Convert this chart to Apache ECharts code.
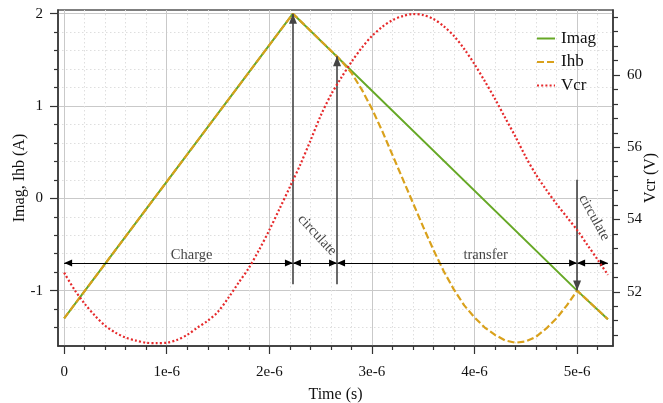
<!DOCTYPE html>
<html>
<head>
<meta charset="utf-8">
<script src="https://cdn.jsdelivr.net/npm/echarts@6/dist/echarts.min.js"></script>
<style>
  html, body { margin: 0; padding: 0; background: #fff; }
  #chart { width: 663px; height: 403px; }
</style>
</head>
<body>
<div id="chart"></div>
<script>
const FONT = '"Liberation Serif", "DejaVu Serif", serif';

// Axis ticks and their labels
const timeTicks = [0, 1e-6, 2e-6, 3e-6, 4e-6, 5e-6];
const timeTickLabels = ['0', '1e-6', '2e-6', '3e-6', '4e-6', '5e-6'];
const currentTicks = [-1, 0, 1, 2];
const currentTickLabels = ['-1', '0', '1', '2'];
const voltageTicks = [52, 54, 56, 58];
const voltageTickLabels = ['52', '54', '56', '60'];

// Waveforms: [time (us), value]
const imagPoints = [[0, -1.30], [2.23, 2.00], [5.0, -1.00], [5.3, -1.31]];
const ihbPoints = [
  [0, -1.30], [2.23, 2.00], [2.66, 1.535], [2.7, 1.49], [2.8, 1.36], [2.9, 1.18],
  [3.0, 0.97], [3.1, 0.73], [3.2, 0.47], [3.3, 0.21], [3.4, -0.05], [3.5, -0.31],
  [3.6, -0.56], [3.7, -0.79], [3.8, -0.99], [3.9, -1.16], [4.0, -1.29], [4.1, -1.40],
  [4.2, -1.48], [4.3, -1.54], [4.4, -1.565], [4.5, -1.55], [4.6, -1.50], [4.7, -1.41],
  [4.8, -1.30], [4.9, -1.16], [5.0, -1.00], [5.3, -1.31]
];
const vcrPoints = [
  [0, 52.53], [0.1, 52.06], [0.2, 51.67], [0.3, 51.34], [0.4, 51.06], [0.5, 50.87],
  [0.6, 50.73], [0.7, 50.65], [0.8, 50.59], [0.9, 50.58], [1.0, 50.59], [1.1, 50.67],
  [1.2, 50.81], [1.3, 51.01], [1.4, 51.20], [1.5, 51.45], [1.6, 51.83], [1.7, 52.25],
  [1.8, 52.66], [1.9, 53.16], [2.0, 53.71], [2.1, 54.30], [2.2, 54.90], [2.3, 55.51],
  [2.4, 56.18], [2.5, 56.87], [2.6, 57.45], [2.7, 57.92], [2.8, 58.36], [2.9, 58.75],
  [3.0, 59.08], [3.1, 59.33], [3.2, 59.52], [3.3, 59.63], [3.4, 59.69], [3.5, 59.66],
  [3.6, 59.55], [3.7, 59.35], [3.8, 59.08], [3.9, 58.72], [4.0, 58.30], [4.1, 57.83],
  [4.2, 57.34], [4.3, 56.81], [4.4, 56.29], [4.5, 55.73], [4.6, 55.24], [4.7, 54.82],
  [4.8, 54.43], [4.9, 54.07], [5.0, 53.71], [5.1, 53.30], [5.2, 52.89], [5.3, 52.47]
];

// Operating phases (us) shown as double arrows at a fixed current level
const phaseArrowLevel = -0.7;
const phaseSpans = [[0, 2.23], [2.23, 2.66], [2.66, 5.0], [5.0, 5.3]];
// Switching-instant markers: [time (us), from current, to current]
const switchMarkers = [[2.23, -0.93, 2.0], [2.66, -0.93, 1.54], [5.0, 0.2, -1.0]];
// Phase captions: [text, time (us), current, rotation (deg)]
const phaseCaptions = [
  ['Charge', 1.243, -0.62, 0],
  ['circulate', 2.466, -0.40, -47],
  ['transfer', 4.108, -0.62, 0],
  ['circulate', 5.166, -0.21, -61]
];

const us = p => [p[0] * 1e-6, p[1]];

function steps(from, to, step, skipEvery) {
  const out = [];
  for (let k = 0; from + k * step <= to + step * 1e-6; k++) {
    if (skipEvery && k % skipEvery === 0) continue;
    out.push(+(from + k * step).toPrecision(10));
  }
  return out;
}
const timeMinorTicks = steps(0, 5.2e-6, 0.2e-6, 5);
const currentMinorTicks = steps(-1.4, 2.0, 0.2, 0).filter(v => Math.abs(v - Math.round(v)) > 1e-9);
const voltageMinorTicks = steps(50.8, 59.6, 0.4, 0).filter(v => Math.abs((v - 52) / 2 - Math.round((v - 52) / 2)) > 1e-9);

function lookup(ticks, labels) {
  return v => {
    for (let i = 0; i < ticks.length; i++) {
      if (Math.abs(ticks[i] - v) <= Math.abs(ticks[1] - ticks[0]) * 1e-6) return labels[i];
    }
    return '';
  };
}

const X_RANGE = { min: -0.06e-6, max: 5.35e-6 };
const I_RANGE = { min: -1.6, max: 2.04 };
const V_RANGE = { min: 50.5, max: 59.8 };

const AXIS_COLOR = '#333';
const labelStyle = { color: '#111', fontFamily: FONT, fontSize: 15 };
const nameStyle = { color: '#111', fontFamily: FONT, fontSize: 16 };
const majorGrid = { show: true, lineStyle: { color: '#c9c9c9', width: 1 } };
const minorGrid = { show: true, lineStyle: { color: '#dedede', width: 1, type: [1.5, 2.5] } };
// Arrowhead tips sit on the line ends (offset per end: [start, end])
const tipOffset = [[0, '50%'], [0, '50%']];

const chart = echarts.init(document.getElementById('chart'), null, { renderer: 'canvas' });

chart.setOption({
  animation: false,
  backgroundColor: '#fff',
  grid: {
    left: 58, right: 50, top: 10, bottom: 57,
    outerBoundsMode: 'none', containLabel: false,
    show: true, borderColor: '#555', borderWidth: 1.5, backgroundColor: 'transparent'
  },
  legend: {
    left: 531, top: 25, orient: 'vertical',
    itemWidth: 18, itemHeight: 14, itemGap: 6.5,
    itemStyle: { opacity: 0 },
    textStyle: { color: '#111', fontFamily: FONT, fontSize: 17, padding: [0, 0, 0, 1] },
    data: ['Imag', 'Ihb', 'Vcr']
  },
  xAxis: [
    {
      type: 'value', ...X_RANGE, position: 'bottom',
      name: 'Time (s)', nameLocation: 'middle', nameGap: 41, nameMoveOverlap: false, nameTextStyle: nameStyle,
      axisLine: { show: true, onZero: false, lineStyle: { color: AXIS_COLOR, width: 1.5 } },
      axisTick: { show: true, inside: false, length: 8, customValues: timeTicks, lineStyle: { color: AXIS_COLOR, width: 1.2 } },
      axisLabel: { ...labelStyle, margin: 19, customValues: timeTicks, formatter: lookup(timeTicks, timeTickLabels) },
      splitLine: majorGrid
    },
    {
      type: 'value', ...X_RANGE, position: 'bottom',
      axisLine: { show: false, onZero: false },
      axisTick: { show: true, inside: false, length: 4, customValues: timeMinorTicks, lineStyle: { color: AXIS_COLOR, width: 1.2 } },
      axisLabel: { show: false },
      splitLine: minorGrid
    }
  ],
  yAxis: [
    {
      type: 'value', ...I_RANGE, position: 'left',
      name: 'Imag, Ihb (A)', nameLocation: 'middle', nameGap: 30, nameMoveOverlap: false, nameTextStyle: nameStyle,
      axisLine: { show: true, onZero: false, lineStyle: { color: AXIS_COLOR, width: 1.5 } },
      axisTick: { show: true, inside: false, length: 8, customValues: currentTicks, lineStyle: { color: AXIS_COLOR, width: 1.2 } },
      axisLabel: { ...labelStyle, margin: 15, customValues: currentTicks, formatter: lookup(currentTicks, currentTickLabels) },
      splitLine: majorGrid
    },
    {
      type: 'value', ...V_RANGE, position: 'right',
      name: 'Vcr (V)', nameLocation: 'middle', nameGap: 30, nameRotate: 90, nameMoveOverlap: false, nameTextStyle: nameStyle,
      axisLine: { show: true, onZero: false, lineStyle: { color: AXIS_COLOR, width: 1.5 } },
      axisTick: { show: true, inside: false, length: 7, customValues: voltageTicks, lineStyle: { color: AXIS_COLOR, width: 1.2 } },
      axisLabel: { ...labelStyle, margin: 14, customValues: voltageTicks, formatter: lookup(voltageTicks, voltageTickLabels) },
      splitLine: { show: false }
    },
    {
      type: 'value', ...I_RANGE, position: 'left',
      axisLine: { show: false, onZero: false },
      axisTick: { show: true, inside: false, length: 4, customValues: currentMinorTicks, lineStyle: { color: AXIS_COLOR, width: 1.2 } },
      axisLabel: { show: false },
      splitLine: minorGrid
    },
    {
      type: 'value', ...V_RANGE, position: 'right',
      axisLine: { show: false, onZero: false },
      axisTick: { show: true, inside: false, length: 5, customValues: voltageMinorTicks, lineStyle: { color: AXIS_COLOR, width: 1.2 } },
      axisLabel: { show: false },
      splitLine: { show: false }
    }
  ],
  series: [
    {
      name: 'Imag', type: 'line', xAxisIndex: 0, yAxisIndex: 0,
      data: imagPoints.map(us), symbol: 'none', z: 3,
      lineStyle: { color: '#66a826', width: 2 }, itemStyle: { color: '#66a826' }
    },
    {
      name: 'Ihb', type: 'line', xAxisIndex: 0, yAxisIndex: 0,
      data: ihbPoints.map(us), symbol: 'none', z: 4,
      lineStyle: { color: '#d9a11c', width: 2.2, type: [7, 3] }, itemStyle: { color: '#d9a11c' }
    },
    {
      name: 'Vcr', type: 'line', xAxisIndex: 0, yAxisIndex: 1,
      data: vcrPoints.map(us), symbol: 'none', smooth: 0.3, z: 5,
      lineStyle: { color: '#e62a2c', width: 2.2, type: [2, 2.2] }, itemStyle: { color: '#e62a2c' }
    },
    {
      name: 'phases', type: 'line', xAxisIndex: 0, yAxisIndex: 0, data: [], z: 6,
      markLine: {
        silent: true, animation: false, label: { show: false },
        symbolSize: [7, 8], symbolOffset: tipOffset,
        lineStyle: { color: '#000', width: 1.1, type: 'solid' },
        data: phaseSpans.map(s => [
          { coord: [s[0] * 1e-6, phaseArrowLevel], symbol: 'triangle' },
          { coord: [s[1] * 1e-6, phaseArrowLevel], symbol: 'triangle' }
        ])
      }
    },
    {
      name: 'switches', type: 'line', xAxisIndex: 0, yAxisIndex: 0, data: [], z: 6,
      markLine: {
        silent: true, animation: false, label: { show: false },
        symbolSize: [8, 10], symbolOffset: tipOffset,
        lineStyle: { color: '#444', width: 1.6, type: 'solid' },
        data: switchMarkers.map(m => [
          { coord: [m[0] * 1e-6, m[1]], symbol: 'none' },
          { coord: [m[0] * 1e-6, m[2]], symbol: 'triangle' }
        ])
      }
    },
    {
      name: 'captions', type: 'scatter', xAxisIndex: 0, yAxisIndex: 0, z: 7,
      symbolSize: 0, silent: true,
      data: phaseCaptions.map(c => ({
        name: c[0], value: [c[1] * 1e-6, c[2]],
        label: { show: true, position: 'inside', rotate: c[3], formatter: c[0],
                 color: '#111', fontFamily: FONT, fontSize: 14.5 }
      }))
    }
  ]
});
</script>
</body>
</html>
